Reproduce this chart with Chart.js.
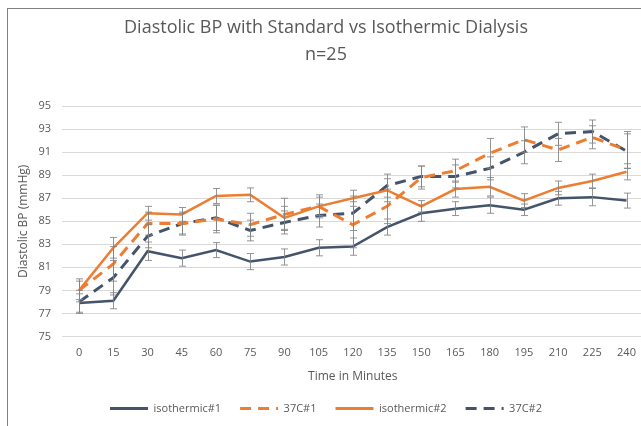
<!DOCTYPE html>
<html>
<head>
<meta charset="utf-8">
<script src="https://cdn.jsdelivr.net/npm/chart.js@4"></script>
<style>
  html, body { margin: 0; padding: 0; background: #fff; overflow: hidden; }
  #frame { position: absolute; left: 7px; top: 8px; width: 639px; height: 418px;
           border-left: 1px solid #808080; border-top: 1px solid #808080; }
  canvas { display: block; }
</style>
</head>
<body>
<div id="frame"><canvas id="c" width="638" height="417"></canvas></div>
<script>
const minutes = ['0','15','30','45','60','75','90','105','120','135','150','165','180','195','210','225','240'];

const isothermic1 = [77.9, 78.1, 82.4, 81.8, 82.5, 81.5, 81.9, 82.7, 82.8, 84.5, 85.7, 86.1, 86.4, 86.0, 87.0, 87.1, 86.8];
const c37_1       = [79.0, 81.3, 84.8, 84.8, 85.2, 84.7, 85.6, 86.3, 84.7, 86.3, 88.8, 89.4, 90.9, 92.1, 91.2, 92.3, 91.2];
const isothermic2 = [79.0, 82.7, 85.7, 85.6, 87.2, 87.3, 85.3, 86.3, 87.0, 87.7, 86.3, 87.8, 88.0, 86.8, 87.9, 88.5, 89.3];
const c37_2       = [78.0, 80.1, 83.7, 84.8, 85.3, 84.2, 84.9, 85.5, 85.7, 88.1, 88.9, 88.9, 89.6, 91.0, 92.6, 92.8, 91.1];

const err1  = [0.8, 0.7, 0.8, 0.7, 0.65, 0.7, 0.7, 0.7, 0.75, 0.7, 0.7, 0.6, 0.7, 0.5, 0.6, 0.75, 0.65];
const err37_1 = [1.0, 1.5, 1.0, 1.0, 1.2, 1.0, 1.4, 1.0, 2.0, 1.5, 1.0, 1.0, 1.3, 1.1, 1.0, 1.0, 1.6];
const err2  = [0.8, 0.9, 0.6, 0.6, 0.65, 0.6, 1.0, 0.8, 0.7, 1.0, 0.5, 0.7, 0.8, 0.6, 0.6, 0.6, 0.7];
const err37_2 = [1.0, 1.5, 1.0, 0.9, 1.1, 0.9, 1.0, 1.0, 1.5, 1.0, 0.9, 1.0, 1.0, 1.0, 1.0, 1.0, 1.5];

const yTicks = { min: 75, max: 95, step: 2 };

const NAVY = '#44546A';
const ORANGE = '#ED7D31';
const TXT = '#595959';
const FONT = "'Open Sans', 'Liberation Sans', sans-serif";

const errorBars = {
  id: 'errorBars',
  afterDatasetsDraw(chart) {
    const ctx = chart.ctx;
    const y = chart.scales.y;
    ctx.save();
    ctx.strokeStyle = 'rgba(130,130,130,0.85)';
    ctx.lineWidth = 1;
    chart.data.datasets.forEach((ds, i) => {
      const meta = chart.getDatasetMeta(i);
      meta.data.forEach((pt, j) => {
        const v = ds.data[j], e = ds.errors[j];
        const x = Math.round(pt.x) + 0.5;
        const yt = y.getPixelForValue(v + e), yb = y.getPixelForValue(v - e);
        ctx.beginPath();
        ctx.moveTo(x, yt); ctx.lineTo(x, yb);
        ctx.moveTo(x - 3.5, yt); ctx.lineTo(x + 3.5, yt);
        ctx.moveTo(x - 3.5, yb); ctx.lineTo(x + 3.5, yb);
        ctx.stroke();
      });
    });
    ctx.restore();
  }
};

function ds(label, data, errors, color, dash, width) {
  return {
    label, data, errors,
    borderColor: color, backgroundColor: color,
    borderWidth: width, borderDash: dash,
    pointRadius: 0, pointHoverRadius: 0, pointStyle: 'line',
    tension: 0, fill: false
  };
}

new Chart(document.getElementById('c'), {
  type: 'line',
  data: {
    labels: minutes,
    datasets: [
      ds('isothermic#1', isothermic1, err1, NAVY, [], 2.5),
      ds('37C#1', c37_1, err37_1, ORANGE, [11, 7], 3),
      ds('isothermic#2', isothermic2, err2, ORANGE, [], 2.5),
      ds('37C#2', c37_2, err37_2, NAVY, [11, 7], 3)
    ]
  },
  options: {
    responsive: false,
    animation: false,
    devicePixelRatio: 1,
    layout: { padding: { left: 0, right: 2, top: 0, bottom: 2 } },
    plugins: {
      title: {
        display: true,
        text: 'Diastolic BP with Standard vs Isothermic Dialysis',
        color: TXT,
        font: { family: FONT, size: 18, weight: 'normal' },
        padding: { top: 8, bottom: 5 }
      },
      subtitle: {
        display: true,
        text: 'n=25',
        color: TXT,
        font: { family: FONT, size: 18, weight: 'normal' },
        padding: { top: 0, bottom: 41 }
      },
      legend: {
        position: 'bottom',
        labels: {
          usePointStyle: true,
          pointStyleWidth: 38,
          boxHeight: 11,
          padding: 19,
          color: TXT,
          font: { family: FONT, size: 11 },
          generateLabels(chart) {
            return chart.data.datasets.map((d, i) => ({
              text: d.label,
              fillStyle: d.borderColor,
              strokeStyle: d.borderColor,
              fontColor: TXT,
              lineWidth: 3,
              lineDash: d.borderDash,
              lineCap: 'butt',
              pointStyle: 'line',
              hidden: false,
              datasetIndex: i
            }));
          }
        }
      },
      tooltip: { enabled: false }
    },
    scales: {
      x: {
        offset: true,
        grid: { display: false, drawTicks: false },
        border: { display: false },
        ticks: { color: TXT, font: { family: FONT, size: 11 }, padding: 10, maxRotation: 0, autoSkip: false },
        title: { display: true, text: 'Time in Minutes', color: TXT,
                 font: { family: FONT, size: 12 }, padding: { top: 0, bottom: 0 } }
      },
      y: {
        min: yTicks.min, max: yTicks.max,
        grid: { color: '#d9d9d9', lineWidth: 1, drawTicks: false },
        border: { display: false },
        ticks: { stepSize: yTicks.step, color: TXT, font: { family: FONT, size: 11 }, padding: 11 },
        title: { display: true, text: 'Diastolic BP (mmHg)', color: TXT,
                 font: { family: FONT, size: 12 }, padding: { top: 8, bottom: 0 } },
        afterFit(scale) { scale.width = 54; }
      }
    }
  },
  plugins: [errorBars]
});
</script>
</body>
</html>
